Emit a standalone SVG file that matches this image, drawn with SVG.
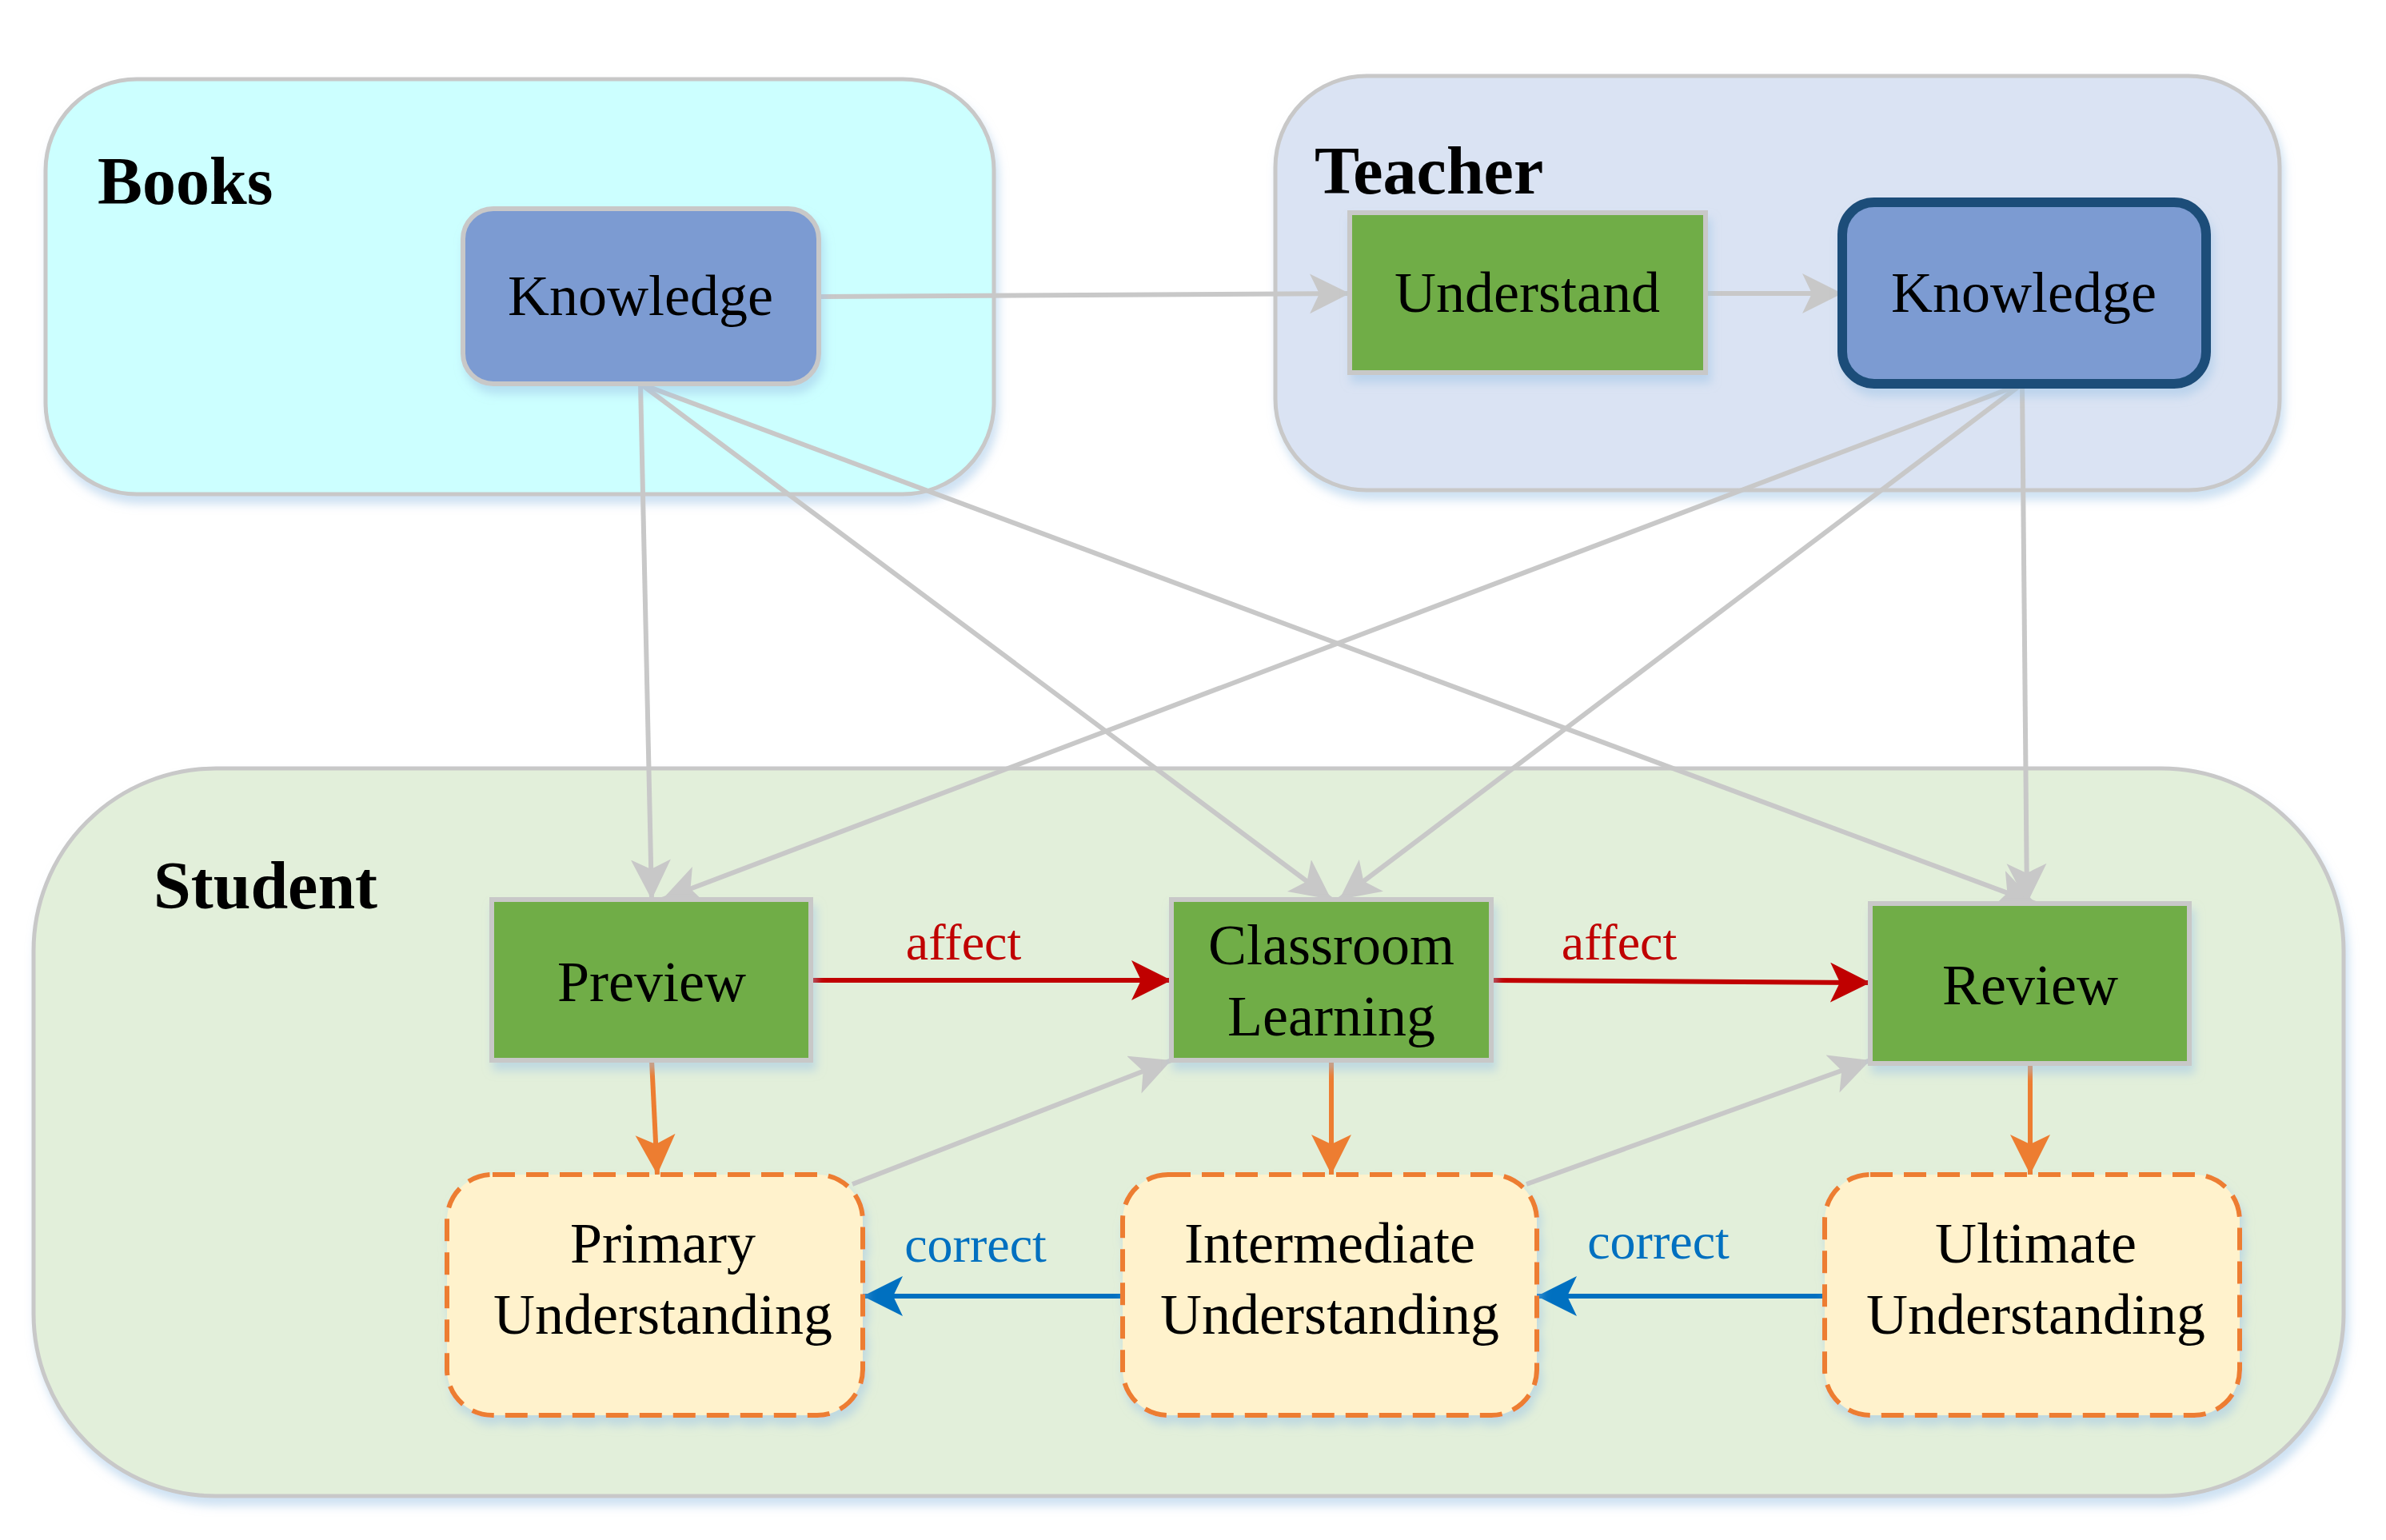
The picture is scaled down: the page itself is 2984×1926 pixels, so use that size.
<svg xmlns="http://www.w3.org/2000/svg" width="2984" height="1926" viewBox="0 0 2984 1926">
<style>
text{font-family:"Liberation Serif","Times New Roman",serif;text-anchor:middle}
.t{font-size:72px;fill:#000}
.h{font-size:84px;font-weight:bold;text-anchor:start}
.g{fill:#70ad47;stroke:#c8c8c8;stroke-width:6}
.k{fill:#7b9bd2;stroke:#c8c8c8;stroke-width:6}
.u{fill:#fff2cc;stroke:#ed7d31;stroke-width:6;stroke-dasharray:28 14}
.gr{stroke:#c8c8c8;stroke-width:6;fill:none;marker-end:url(#ag)}
.or{stroke:#ed7d31;stroke-width:6;fill:none;marker-end:url(#ao)}
.rd{stroke:#c00000;stroke-width:6;fill:none;marker-end:url(#ar)}
.bl{stroke:#0070c0;stroke-width:6;fill:none;marker-end:url(#ab)}
</style>
<defs>
<filter id="sh" x="-10%" y="-10%" width="130%" height="130%"><feDropShadow dx="4" dy="10" stdDeviation="6" flood-color="#9dc3e6" flood-opacity="0.5"/></filter>
<marker id="ag" markerUnits="userSpaceOnUse" markerWidth="60" markerHeight="60" refX="50" refY="25" orient="auto"><path d="M0,0 L50,25 L0,50 L12,25 Z" fill="#c8c8c8"/></marker>
<marker id="ao" markerUnits="userSpaceOnUse" markerWidth="60" markerHeight="60" refX="50" refY="25" orient="auto"><path d="M0,0 L50,25 L0,50 L12,25 Z" fill="#ed7d31"/></marker>
<marker id="ar" markerUnits="userSpaceOnUse" markerWidth="60" markerHeight="60" refX="50" refY="25" orient="auto"><path d="M0,0 L50,25 L0,50 L12,25 Z" fill="#c00000"/></marker>
<marker id="ab" markerUnits="userSpaceOnUse" markerWidth="60" markerHeight="60" refX="50" refY="25" orient="auto"><path d="M0,0 L50,25 L0,50 L12,25 Z" fill="#0070c0"/></marker>
</defs>
<rect width="2984" height="1926" fill="#fff"/>
<g id="books"><rect x="57" y="99" width="1186" height="519" rx="114" fill="#ccffff" stroke="#c8c8c8" stroke-width="5" filter="url(#sh)"/><text class="h" x="122" y="255">Books</text></g>
<g id="teacher"><rect x="1595" y="95" width="1256" height="518" rx="114" fill="#dae3f3" stroke="#c8c8c8" stroke-width="5" filter="url(#sh)"/><text class="h" x="1644" y="242">Teacher</text></g>
<g id="student"><rect x="42" y="961" width="2889" height="910" rx="228" fill="#e2efda" stroke="#c8c8c8" stroke-width="5" filter="url(#sh)"/><text class="h" x="192" y="1136">Student</text></g>
<g id="connectors">
<line class="gr" x1="1024" y1="371" x2="1688" y2="367"/>
<line class="gr" x1="2133" y1="367" x2="2304" y2="367"/>
<line class="gr" x1="801" y1="480" x2="815" y2="1125"/>
<line class="gr" x1="801" y1="480" x2="1665" y2="1125"/>
<line class="gr" x1="801" y1="480" x2="2546" y2="1130"/>
<line class="gr" x1="2529" y1="480" x2="828" y2="1125"/>
<line class="gr" x1="2529" y1="480" x2="1675" y2="1125"/>
<line class="gr" x1="2529" y1="480" x2="2535" y2="1130"/>
<line class="gr" x1="1066" y1="1481" x2="1465" y2="1326"/>
<line class="gr" x1="1909" y1="1481" x2="2339" y2="1326"/>
<line class="or" x1="815" y1="1326" x2="822" y2="1469"/>
<line class="or" x1="1665" y1="1326" x2="1665" y2="1469"/>
<line class="or" x1="2539" y1="1330" x2="2539" y2="1469"/>
<line class="rd" x1="1014" y1="1226" x2="1465" y2="1226"/>
<line class="rd" x1="1865" y1="1226" x2="2339" y2="1229"/>
<line class="bl" x1="1404" y1="1621" x2="1079" y2="1621"/>
<line class="bl" x1="2282" y1="1621" x2="1922" y2="1621"/>
<text x="1205" y="1200" font-size="64" fill="#c00000">affect</text>
<text x="2025" y="1200" font-size="64" fill="#c00000">affect</text>
<text x="1220" y="1578" font-size="64" fill="#0070c0">correct</text>
<text x="2074" y="1574" font-size="64" fill="#0070c0">correct</text>
</g>
<g id="bk"><rect class="k" x="579" y="261" width="445" height="219" rx="38" filter="url(#sh)"/><text class="t" x="801" y="394">Knowledge</text></g>
<g id="understand"><rect class="g" x="1688" y="266" width="445" height="200" filter="url(#sh)"/><text class="t" x="1910" y="390">Understand</text></g>
<g id="tk"><rect x="2304" y="253" width="455" height="227" rx="40" fill="#7b9bd2" stroke="#1f4e79" stroke-width="12" filter="url(#sh)"/><text class="t" x="2531" y="390">Knowledge</text></g>
<g id="preview"><rect class="g" x="615" y="1125" width="399" height="201" filter="url(#sh)"/><text class="t" x="815" y="1252">Preview</text></g>
<g id="classroom"><rect class="g" x="1465" y="1125" width="400" height="201" filter="url(#sh)"/><text class="t" x="1665" y="1206">Classroom</text><text class="t" x="1665" y="1295">Learning</text></g>
<g id="review"><rect class="g" x="2339" y="1130" width="399" height="200" filter="url(#sh)"/><text class="t" x="2539" y="1256">Review</text></g>
<g id="primary"><rect class="u" x="559" y="1469" width="520" height="301" rx="57" filter="url(#sh)"/><text class="t" x="829" y="1579">Primary</text><text class="t" x="829" y="1668">Understanding</text></g>
<g id="intermediate"><rect class="u" x="1404" y="1469" width="518" height="301" rx="57" filter="url(#sh)"/><text class="t" x="1663" y="1579">Intermediate</text><text class="t" x="1663" y="1668">Understanding</text></g>
<g id="ultimate"><rect class="u" x="2282" y="1469" width="519" height="301" rx="57" filter="url(#sh)"/><text class="t" x="2546" y="1579">Ultimate</text><text class="t" x="2546" y="1668">Understanding</text></g>
</svg>
